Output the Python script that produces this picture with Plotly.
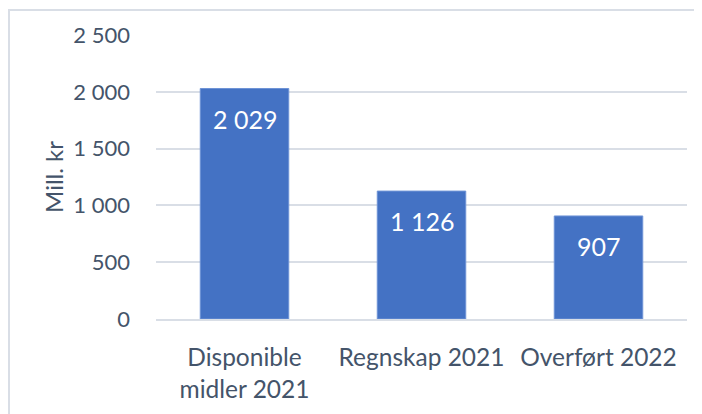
import plotly.graph_objects as go

categories = ["Disponible<br>midler 2021", "Regnskap 2021", "Overført 2022"]
values = [2029, 1126, 907]
y_ticks = [0, 500, 1000, 1500, 2000, 2500]
y_title = "Mill. kr"

FONT = "Lato"
TEXT = "#44546A"
GRID = "#D9DEE6"
BAR = "#4472C4"

fig = go.Figure()
fig.add_trace(go.Bar(
    x=categories, y=values,
    marker=dict(color=BAR, line=dict(color="#6E93D6", width=1)),
    hoverinfo="skip",
))

for c, v in zip(categories, values):
    fig.add_annotation(
        x=c, y=v, xref="x", yref="y",
        text=f"{v:,}".replace(",", " "),
        showarrow=False, yanchor="top", yshift=-13,
        font=dict(family=FONT, size=25, color="white"),
    )

# chart frame (cropped on right and bottom like the reference)
fig.add_shape(type="rect", xref="paper", yref="paper",
              x0=-0.2768, x1=1.06, y0=-0.40, y1=1.088,
              line=dict(color=GRID, width=2), layer="below")

fig.update_layout(
    width=702, height=414, autosize=False,
    margin=dict(l=148, r=23, t=27, b=103),
    paper_bgcolor="white", plot_bgcolor="white",
    separators=", ",
    bargap=0.5,
    showlegend=False,
    font=dict(family=FONT, size=22, color=TEXT),
    xaxis=dict(
        showgrid=False, showline=True, linecolor=GRID, linewidth=2,
        ticks="", ticklabelstandoff=16,
        tickfont=dict(family=FONT, size=24.5, color=TEXT),
    ),
    yaxis=dict(
        range=[0, 2500], tickvals=y_ticks, tickformat=",d",
        showgrid=True, gridcolor=GRID, gridwidth=2,
        zeroline=False, showline=False, ticks="",
        ticklabelstandoff=25, automargin=False,
        tickfont=dict(family=FONT, size=22, color=TEXT),
        title=dict(text=y_title, standoff=2,
                   font=dict(family=FONT, size=24, color=TEXT)),
    ),
)

fig.write_html("out.html")
